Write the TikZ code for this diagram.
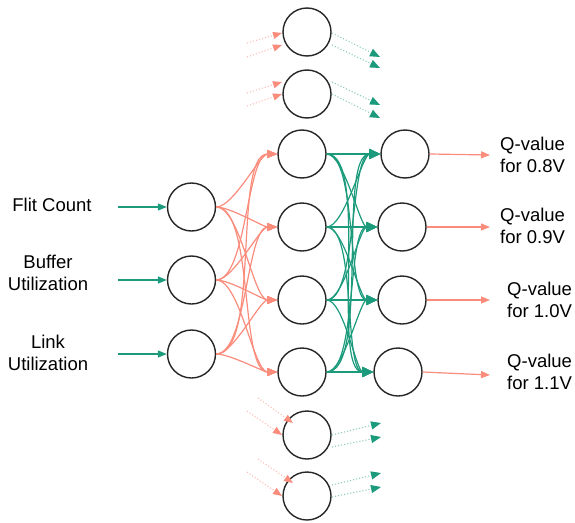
\documentclass[tikz,border=0pt]{standalone}
\usepackage{fontspec}
\setmainfont{Liberation Sans}
\usetikzlibrary{arrows.meta}
\definecolor{salmon}{HTML}{FA8C7C}
\definecolor{teal}{HTML}{1B9A7C}
\begin{document}
\begin{tikzpicture}[x=1pt,y=-1pt,
  neuron/.style={circle,draw=black!85,line width=1.4pt,minimum size=48pt,inner sep=0pt},
  lbl/.style={font=\fontsize{18.5}{22}\selectfont,align=center,inner sep=0pt},
  qlbl/.style={font=\fontsize{18.5}{22}\selectfont,align=left,inner sep=0pt,anchor=west},
  feed/.style={teal,line width=1.2pt,-{Triangle[length=9pt,width=7pt]}},
  outarr/.style={salmon,line width=1.2pt,-{Triangle[length=9pt,width=7pt]}},
  ih/.style={salmon,line width=1.2pt,-{Triangle[length=10pt,width=8pt]}},
  ho/.style={teal,line width=1.2pt,-{Triangle[length=11pt,width=10pt]}},
  inghost/.style={salmon!55,line width=1.1pt,dotted,-{Triangle[length=9pt,width=7pt,fill=salmon,color=salmon]}},
  outghost/.style={teal!50,line width=1.1pt,dotted,-{Triangle[length=10pt,width=8pt,fill=teal,color=teal]}}
]
\useasboundingbox (0,0) rectangle (575,522);

% input layer
\node[neuron] (i1) at (191.5,207) {};
\node[neuron] (i2) at (191.5,280) {};
\node[neuron] (i3) at (191.5,354) {};

% hidden layer
\node[neuron] (h1) at (302,154) {};
\node[neuron] (h2) at (302,227) {};
\node[neuron] (h3) at (302,300) {};
\node[neuron] (h4) at (302,372) {};

% further hidden units, drawn as hints
\node[neuron] (t1) at (307,32) {};
\node[neuron] (t2) at (307,94) {};
\node[neuron] (b1) at (307,435) {};
\node[neuron] (b2) at (307,496) {};

% output layer
\node[neuron] (o1) at (405,154) {};
\node[neuron] (o2) at (402,227) {};
\node[neuron] (o3) at (402,300) {};
\node[neuron] (o4) at (398,372) {};

% input labels
\node[lbl] (l1) at (52,205) {Flit Count};
\node[lbl] (l2) at (48,273) {Buffer\\Utilization};
\node[lbl] (l3) at (48,353) {Link\\Utilization};
\coordinate (s1) at (118,207);
\coordinate (s2) at (118,280);
\coordinate (s3) at (118,354);
\draw[feed] (s1) -- (i1.west);
\draw[feed] (s2) -- (i2.west);
\draw[feed] (s3) -- (i3.west);

% output labels
\node[qlbl] (q1) at (500,155) {Q-value\\for 0.8V};
\node[qlbl] (q2) at (500,226) {Q-value\\for 0.9V};
\node[qlbl] (q3) at (507,300) {Q-value\\for 1.0V};
\node[qlbl] (q4) at (507,372) {Q-value\\for 1.1V};
\coordinate (e1) at (490,155);
\coordinate (e2) at (490,227);
\coordinate (e3) at (490,300);
\coordinate (e4) at (490,375);
\draw[outarr] (o1.east) -- (e1);
\draw[outarr] (o2.east) -- (e2);
\draw[outarr] (o3.east) -- (e3);
\draw[outarr] (o4.east) -- (e4);

% input -> hidden
\foreach \a in {1,2,3}
  \foreach \b in {1,2,3,4}
    \draw[ih] (i\a.east) to[out=0,in=180,looseness=0.55] (h\b.west);

% hidden -> output
\foreach \a in {1,2,3,4}
  \foreach \b in {1,2,3,4}
    \draw[ho] (h\a.east) to[out=0,in=180,looseness=0.5] (o\b.west);

% hinted connections of the extra units
\coordinate (ta1) at (247,43);  \coordinate (ta2) at (247,57);
\coordinate (tb1) at (380,57);  \coordinate (tb2) at (380,68);
\draw[inghost] (ta1) -- (282,33);
\draw[inghost] (ta2) -- (282,45);
\draw[outghost] (332,33) -- (tb1);
\draw[outghost] (332,45) -- (tb2);

\coordinate (tc1) at (247,93);  \coordinate (tc2) at (247,106);
\coordinate (td1) at (380,105); \coordinate (td2) at (380,118);
\draw[inghost] (tc1) -- (282,82);
\draw[inghost] (tc2) -- (282,94);
\draw[outghost] (332,82) -- (td1);
\draw[outghost] (332,94) -- (td2);

\coordinate (ba1) at (258,398); \coordinate (ba2) at (247,411);
\coordinate (bb1) at (381,423); \coordinate (bb2) at (381,437);
\draw[inghost] (ba1) -- (293,423);
\draw[inghost] (ba2) -- (282,435);
\draw[outghost] (332,435) -- (bb1);
\draw[outghost] (332,447) -- (bb2);

\coordinate (bc1) at (258,459); \coordinate (bc2) at (247,472);
\coordinate (bd1) at (381,473); \coordinate (bd2) at (381,487);
\draw[inghost] (bc1) -- (293,483);
\draw[inghost] (bc2) -- (282,496);
\draw[outghost] (332,485) -- (bd1);
\draw[outghost] (332,497) -- (bd2);
\end{tikzpicture}
\end{document}
